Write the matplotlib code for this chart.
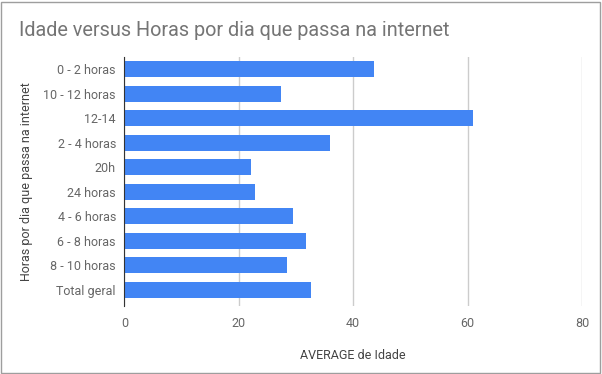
import matplotlib
matplotlib.use("Agg")
import matplotlib.pyplot as plt
from matplotlib.patches import Rectangle

categories = ["0 - 2 horas", "10 - 12 horas", "12-14", "2 - 4 horas", "20h", "24 horas",
              "4 - 6 horas", "6 - 8 horas", "8 - 10 horas", "Total geral"]
values = [43.7, 27.3, 61.0, 35.9, 22.1, 22.9, 29.4, 31.7, 28.5, 32.6]
xticks = [0, 20, 40, 60, 80]

plt.rcParams['font.family'] = ['Roboto', 'DejaVu Sans']

fig = plt.figure(figsize=(6.02, 3.74), dpi=100)
ax_left, ax_right = 0.2065, 0.967
ax = fig.add_axes([ax_left, 0.182, ax_right - ax_left, 0.848 - 0.182])

ax.barh(range(len(categories)), values, height=0.65, color="#4285f4", zorder=3)
ax.set_ylim(9.65, -0.5)
ax.set_xlim(0, 80)
ax.set_xticks(xticks)
ax.set_xticklabels([str(t) for t in xticks])
ax.set_yticks(range(len(categories)))
ax.set_yticklabels(categories)
ax.grid(axis='x', color="#cccccc", linewidth=1, zorder=0)
for s in ["top", "right", "bottom"]:
    ax.spines[s].set_visible(False)
ax.spines["left"].set_color("#333333")
ax.spines["left"].set_zorder(4)
ax.tick_params(axis='both', length=0, labelsize=9, colors="#666666")
ax.tick_params(axis='x', pad=8)
ax.tick_params(axis='y', pad=6)

ax.set_xlabel("AVERAGE de Idade", fontsize=9, color="#444444", labelpad=14)
ax.set_ylabel("Horas por dia que passa na internet", fontsize=9, color="#444444")
ax.yaxis.set_label_coords((33 - ax_left * 602) / ((ax_right - ax_left) * 602), 0.5)

fig.text(19 / 602, 1 - 30 / 374, "Idade versus Horas por dia que passa na internet",
         fontsize=14.3, color="#757575", ha="left", va="center")

fig.patches.append(Rectangle((1 / 602, 1 / 374), 599 / 602, 371 / 374, transform=fig.transFigure,
                             fill=False, edgecolor="#9e9e9e", linewidth=1))

fig.savefig("out.png", dpi=100)
